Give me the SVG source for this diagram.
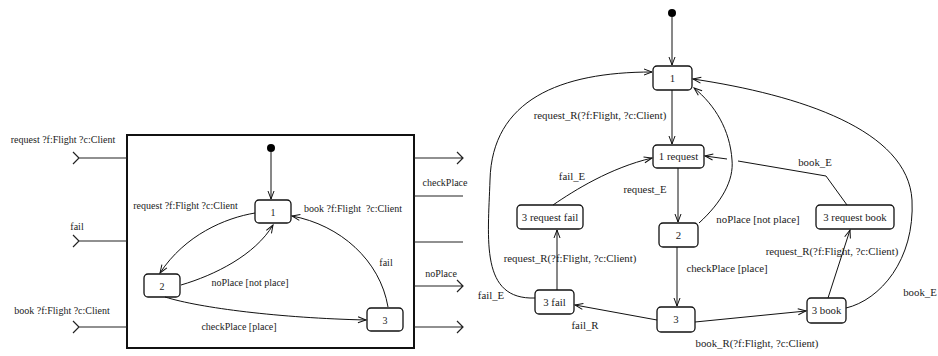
<svg xmlns="http://www.w3.org/2000/svg" width="938" height="356" viewBox="0 0 938 356">
<style>
text{font-family:"Liberation Serif","Times New Roman",serif;fill:#222;text-anchor:middle}
.l text{font-size:10px}
.r text{font-size:10.8px}
.node rect{fill:#fff;stroke:#111;stroke-width:1.3}
.e{fill:none;stroke:#111;stroke-width:1}
.ea{fill:none;stroke:#111;stroke-width:1;marker-end:url(#ah)}
.port{fill:none;stroke:#222;stroke-width:1.2}
</style>
<defs>
<marker id="ah" markerUnits="userSpaceOnUse" markerWidth="12" markerHeight="10" refX="0" refY="0" viewBox="-10 -5 12 10" orient="auto" overflow="visible">
<path d="M-8,-3 L0,0 L-8,3" fill="none" stroke="#111" stroke-width="1"/>
</marker>
</defs>

<!-- LEFT DIAGRAM -->
<g class="l">
<g id="component">
<rect x="127" y="135" width="287" height="213" fill="#fff" stroke="#111" stroke-width="2"/>
</g>
<g id="ports" class="port">
<path d="M79,158 H127 M73,152 L79,158 L73,164"/>
<path d="M79,241 H127 M73,235 L79,241 L73,247"/>
<path d="M79,327 H127 M73,321 L79,327 L73,333"/>
<path d="M414,158 H463 M457,152 L463,158 L457,164"/>
<path d="M414,196 H463"/>
<path d="M414,242 H463"/>
<path d="M414,286 H463 M457,280 L463,286 L457,292"/>
<path d="M414,327 H463 M457,321 L463,327 L457,333"/>
</g>
<g id="port-labels">
<text x="63" y="143">request ?f:Flight ?c:Client</text>
<text x="77" y="230">fail</text>
<text x="62" y="314">book ?f:Flight ?c:Client</text>
<text x="445" y="186">checkPlace</text>
<text x="441" y="277">noPlace</text>
</g>
<g id="L-init"><circle cx="271" cy="148" r="4" fill="#000"/></g>
<g id="L-n1" class="node"><rect x="255" y="200" width="36" height="23" rx="4"/><text x="273" y="215.5">1</text></g>
<g id="L-n2" class="node"><rect x="144" y="274" width="36" height="23" rx="4"/><text x="162" y="289.5">2</text></g>
<g id="L-n3" class="node"><rect x="367" y="308" width="36" height="23" rx="4"/><text x="385" y="323.5">3</text></g>
<g id="L-edges">
<path class="ea" d="M271,152 L271,199"/>
<path class="ea" d="M255,213 C225,218 185,235 160,273"/>
<path class="ea" d="M181,285 C215,275 255,255 273,225"/>
<path class="ea" d="M165,297 C200,308 280,318 366,320"/>
<path class="ea" d="M388,307 C380,260 340,225 292,216"/>
<text x="185.5" y="209">request ?f:Flight ?c:Client</text>
<text x="250" y="286">noPlace [not place]</text>
<text x="239" y="330">checkPlace [place]</text>
<text x="353" y="212" xml:space="preserve" style="white-space:pre">book ?f:Flight  ?c:Client</text>
<text x="386" y="266">fail</text>
</g>
</g>

<!-- RIGHT DIAGRAM -->
<g class="r">
<g id="R-init"><circle cx="672" cy="13" r="4" fill="#000"/></g>
<g id="R-n1" class="node"><rect x="653" y="66" width="39" height="24" rx="4"/><text x="672.5" y="81.5">1</text></g>
<g id="R-n1req" class="node"><rect x="653" y="145" width="51" height="23" rx="4"/><text x="678.5" y="160">1 request</text></g>
<g id="R-n2" class="node"><rect x="659" y="223" width="39" height="24" rx="4"/><text x="678.5" y="238.5">2</text></g>
<g id="R-n3" class="node"><rect x="657" y="307" width="38" height="25" rx="4"/><text x="676" y="323">3</text></g>
<g id="R-n3reqfail" class="node"><rect x="517" y="205" width="66" height="24" rx="4"/><text x="550" y="220.5">3 request fail</text></g>
<g id="R-n3fail" class="node"><rect x="535" y="290" width="39" height="24" rx="4"/><text x="554.5" y="305.5">3 fail</text></g>
<g id="R-n3reqbook" class="node"><rect x="816" y="205" width="78" height="24" rx="4"/><text x="855" y="220.5">3 request book</text></g>
<g id="R-n3book" class="node"><rect x="807" y="298" width="39" height="25" rx="4"/><text x="826.5" y="314">3 book</text></g>
<g id="R-edges">
<path class="ea" d="M672,17 L672,65"/>
<path class="ea" d="M672,90 L672,144"/>
<path class="ea" d="M678,168 L678,222"/>
<path class="ea" d="M677,247 L677,306"/>
<path class="ea" d="M699,223 C722,202 734,180 732,160 C730,130 715,105 694,88"/>
<path class="ea" d="M553,205 C575,190 610,168 652,158"/>
<path class="ea" d="M557,290 L557,230"/>
<path class="ea" d="M657,320 L575,305"/>
<path class="ea" d="M695,322 L806,311"/>
<path class="ea" d="M828,298 L850,230"/>
<path class="e" d="M847,205 L826,176 L738,161"/>
<path class="ea" d="M727,159 L705,156"/>
<path class="ea" d="M846,308 C880,300 915,260 912,200 C908,130 800,95 693,79"/>
<path class="ea" d="M535,298 C480,300 488,240 490,180 C492,100 560,72 652,72"/>
<text x="600" y="119">request_R(?f:Flight, ?c:Client)</text>
<text x="572" y="180">fail_E</text>
<text x="645" y="193">request_E</text>
<text x="758" y="223">noPlace [not place]</text>
<text x="727" y="272">checkPlace [place]</text>
<text x="570" y="262">request_R(?f:Flight, ?c:Client)</text>
<text x="491" y="299">fail_E</text>
<text x="585" y="329">fail_R</text>
<text x="757" y="347">book_R(?f:Flight, ?c:Client)</text>
<text x="832" y="255">request_R(?f:Flight, ?c:Client)</text>
<text x="815" y="166">book_E</text>
<text x="920" y="296">book_E</text>
</g>
</g>
</svg>
